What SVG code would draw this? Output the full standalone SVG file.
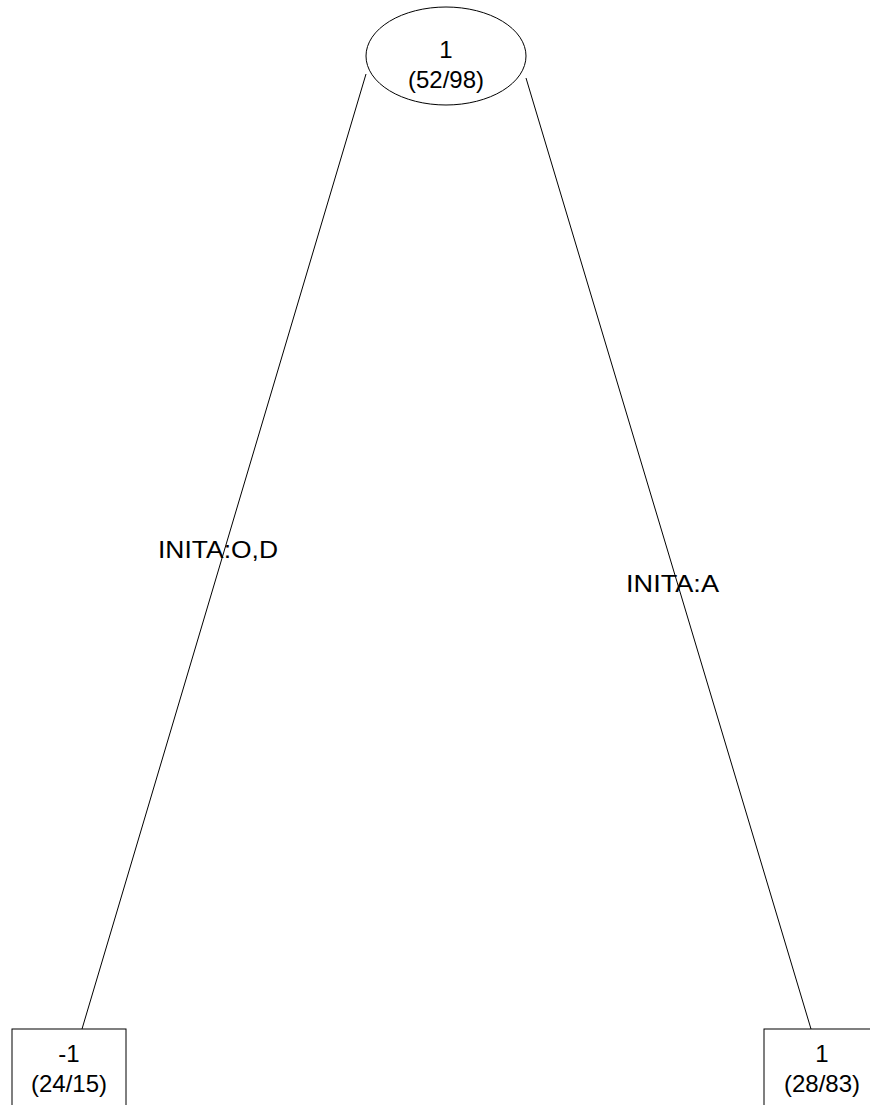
<svg xmlns="http://www.w3.org/2000/svg" width="870" height="1105" viewBox="0 0 870 1105">
<style>
.n{fill:#fff;stroke:#000;stroke-width:1}
.t{font-family:"Liberation Sans",Arial,sans-serif;font-size:24px;fill:#000}
.c{text-anchor:middle}
.e{stroke:#000;stroke-width:1;fill:none}
</style>
<rect width="870" height="1105" fill="#fff"/>
<g id="connectors">
<line class="e" x1="366" y1="74" x2="82" y2="1029"/>
<line class="e" x1="526" y1="78" x2="811" y2="1029"/>
<text class="t" x="158" y="558" textLength="120" lengthAdjust="spacingAndGlyphs">INITA:O,D</text>
<text class="t" x="626" y="592" textLength="93" lengthAdjust="spacingAndGlyphs">INITA:A</text>
</g>
<g id="root">
<ellipse class="n" cx="446" cy="56" rx="80" ry="49"/>
<text class="t c" x="446" y="58">1</text>
<text class="t c" x="446" y="88">(52/98)</text>
</g>
<g id="leaf-left">
<rect class="n" x="12" y="1029" width="114" height="90"/>
<text class="t c" x="69" y="1062">-1</text>
<text class="t c" x="69" y="1092">(24/15)</text>
</g>
<g id="leaf-right">
<rect class="n" x="764" y="1029" width="116" height="90"/>
<text class="t c" x="822" y="1062">1</text>
<text class="t c" x="822" y="1092">(28/83)</text>
</g>
</svg>
